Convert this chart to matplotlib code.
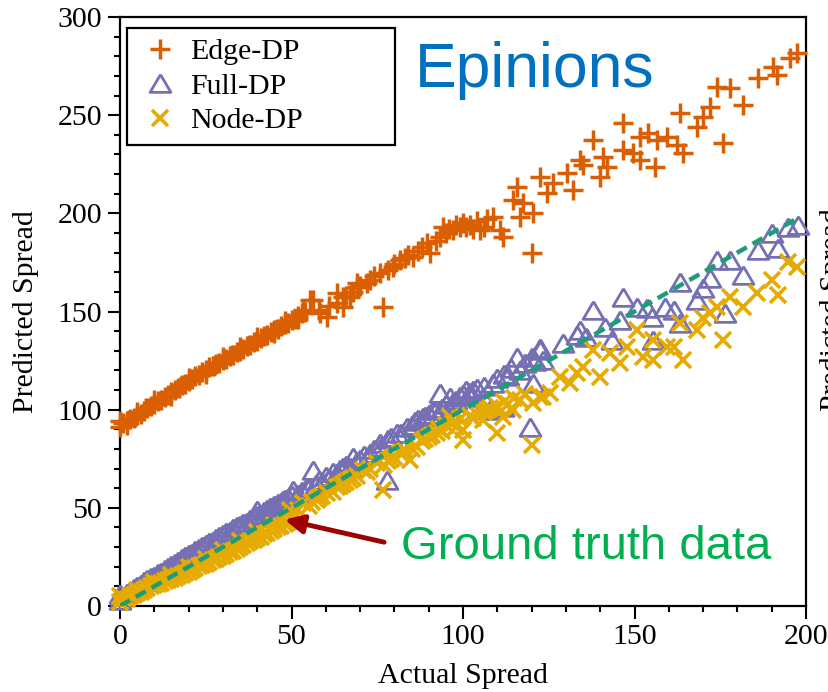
import matplotlib
matplotlib.use("Agg")
import matplotlib.pyplot as plt
from matplotlib.ticker import MultipleLocator

# ---------------- data ----------------
edge_x = [0, 0, 1, 2, 2, 3, 4, 5, 5, 6, 7, 8, 9, 10, 10, 11, 12, 13, 14, 15, 15, 16, 17, 18, 19,
          20, 20, 21, 22, 23, 24, 25, 25, 26, 27, 28, 29, 30, 30, 31, 32, 33, 34, 35, 35, 36, 37,
          38, 39, 40, 40, 41, 42, 43, 44, 45, 45, 46, 47, 48, 48, 49, 50, 51, 52, 52, 53, 54,
          55.4, 56.4, 58.3, 53.4, 60.3, 63.2, 67, 65, 69, 58, 61, 66, 68, 70, 73, 74, 78, 80, 83,
          84, 87, 88, 92, 95, 96, 98, 99, 100, 102, 103, 104, 106, 107,
          65.1, 63.2, 69, 71.9, 75.8, 76.8, 79.7, 81.6, 85.5, 89.4, 90.4, 93.3, 94.3, 97.2, 101,
          105, 108.8, 110.8, 111.7, 114.7, 115.6, 116.6, 117.6, 120, 120.5, 122.4, 124.4, 126.3,
          130.2, 132.2, 134.1, 135.1, 138, 140, 140.9, 141.9, 146.7, 146.7, 149.7, 151.6, 151.6,
          154, 156, 156.5, 159.4, 162.3, 163.3, 164.2, 168.1, 170, 172, 174, 175.9, 177.8, 181.7,
          186.1, 190.5, 191.5, 195.3, 197.3]
edge_y = [91, 94, 93, 94, 92, 95, 96, 97.5, 99, 98, 99.5, 101, 102, 103, 105, 104.5, 105, 106.5,
          107.5, 109, 107, 110, 111, 112.5, 113, 114.5, 116, 115.5, 117, 117.5, 119, 120, 118,
          121.5, 122, 123.5, 124, 125.5, 127, 126, 127.5, 128, 129.5, 130, 132, 131, 132.5, 133,
          134.5, 135, 137, 136.5, 137.5, 138, 139.5, 140.5, 139, 141, 142.5, 143.5, 145, 144,
          145.5, 146, 147.5, 146, 149, 150,
          156, 155.9, 149.1, 150.8, 147.4, 159.4, 157.6, 152.5, 164.4, 151, 153, 158, 160, 163,
          166, 168, 171, 174, 177, 179, 181, 183, 186, 190, 192, 194, 193, 195, 194, 192, 196,
          193, 197,
          157.6, 154.2, 162.7, 164.4, 169.5, 152.5, 172.9, 176.3, 178, 184.8, 179.7, 188.1, 193.2,
          191.5, 193.2, 191.5, 198.3, 191.5, 188.1, 206.8, 213.6, 198.3, 205.1, 179.7, 200, 218.7,
          210.2, 215.3, 220.4, 211.9, 227.2, 224.7, 237.4, 218.7, 228.9, 223.8, 245.9, 232.3,
          230.6, 239.1, 227.2, 240.8, 223.8, 237.4, 239.1, 234.8, 251, 230.6, 244.2, 249.3, 254.4,
          264.5, 235.7, 263.7, 255.2, 268.8, 274.7, 270.5, 279, 281.5]

full_x = [0, 0, 1, 2, 3, 4, 5, 6, 7, 8, 9, 10, 11, 12, 13, 14, 15, 16, 17, 18, 19, 20, 21, 22,
          23, 24, 25, 26, 27, 28, 29, 30, 31, 32, 33, 34, 35, 36, 37, 38, 39, 40, 41, 42, 43, 44,
          45, 46, 47, 48, 49, 50,
          39.9, 43.7, 47.6, 50.5, 54.4, 56.4, 63.2, 65.1, 68, 72.9, 75.8, 77.8, 80.7, 83.6, 88.4,
          91.3, 93.3, 96.2, 101, 105.9, 107.9, 108.8, 111.7, 115.6, 116.6, 119.5, 122.4,
          52, 53, 55, 57, 58, 59, 60, 61, 62, 64, 66, 67, 69, 70, 71, 74, 76, 78, 79, 82, 85, 86,
          87, 89, 90, 92, 94, 95, 97, 98, 99, 100, 102, 103, 104, 106, 110, 112, 113, 114, 118,
          120, 121,
          120.5, 123.4, 122.4, 129.2, 133.1, 134.1, 136, 138, 141.4, 143.4, 145.8, 146.7, 150.6,
          153.5, 155, 155.4, 159, 161.4, 163.3, 163.3, 168.1, 170, 172, 174, 176.4, 177.8, 181.7,
          186.1, 190, 191.9, 194.8, 197.8]
full_y = [3, 6, 5, 6.5, 7.5, 9, 10, 11, 12.5, 13.5, 15, 15.5, 17, 17.5, 19, 20, 21, 22, 23,
          24.5, 25.5, 26.5, 27, 28.5, 29.5, 30.5, 31.5, 32.5, 33, 34.5, 35.5, 36.5, 37.5, 38, 39.5,
          40.5, 41.5, 42.5, 43, 44.5, 45.5, 46.5, 47, 48.5, 49.5, 50, 51.5, 52.5, 53, 54.5, 55,
          56.5,
          48.9, 50.6, 54, 59.1, 60.8, 69.3, 67.6, 71, 76.1, 77.8, 82.9, 64.2, 88, 91.4, 96.4, 99.8,
          108.4, 106.6, 110, 106.6, 99.8, 113.4, 101.5, 127, 120.2, 91.4, 130.4,
          57, 58.5, 60, 62, 64, 63, 66, 65, 68, 70, 72, 71, 74, 75, 77, 80, 81, 85, 86, 88, 92,
          94, 95, 97, 98, 100, 101, 103, 104, 105, 107, 108, 109, 110, 111, 112, 116, 118, 117,
          121, 124, 127, 125,
          113.4, 125.3, 131.3, 133.8, 138, 140.6, 137.2, 150.8, 142.3, 135.5, 145.7, 157.6, 152.5,
          151.7, 147.4, 135.5, 152.5, 150.8, 165.2, 144, 155.9, 161.8, 166.9, 176.3, 149.1, 176.3,
          168.6, 181.4, 189.8, 182.2, 193.2, 194.1]

node_x = [0, 0, 1, 2, 3, 4, 5, 5, 6, 7, 8, 9, 10, 10, 11, 12, 13, 14, 15, 15, 16, 17, 18, 19,
          20, 20, 21, 22, 23, 24, 25, 25, 26, 27, 28, 29, 30, 30, 31, 32, 33, 34, 35, 35, 36, 37,
          38, 39, 40, 40, 41, 42, 43, 44, 45, 45, 46, 47, 48, 49, 50, 50,
          49.6, 53.4, 57.3, 60.3, 63.2, 67, 70.9, 74.8, 76.8, 81.6, 84.5, 86.5, 92.3, 96.2, 100.1,
          100.1, 105.9, 109.8, 111.7, 114.7, 116.6, 120.5, 120, 123.4,
          52, 55, 56, 58, 59, 62, 64, 65, 66, 68, 69, 72, 73, 77, 78, 79, 80, 82, 83, 85, 88, 89,
          90, 91, 93, 94, 95, 97, 98, 99, 102, 103, 104, 106, 107, 108, 110, 112, 113, 115, 118,
          122.4, 125.4, 128.3, 131.2, 133.1, 135.1, 138, 140, 142.9, 145.8, 147.7, 150.6, 152.6,
          155.5, 155.5, 159.4, 161.4, 163.3, 164.2, 168.1, 170, 172, 174, 175.9, 177.8, 181.7,
          185.6, 190, 191.9, 194.8, 197.3]
node_y = [2, 5, 4, 3.5, 5, 5.5, 6.5, 8, 7, 8, 9, 10, 10.5, 12, 11, 11.5, 12.5, 13, 14, 16, 14.5,
          15.5, 16, 17, 17.5, 20, 18.5, 19.5, 20.5, 21, 21.5, 24, 22.5, 23.5, 24, 25, 25.5, 28.5,
          26.5, 27.5, 28, 29, 30, 33, 31, 32, 33, 33.5, 34.5, 37.5, 35, 36.5, 37, 38, 39, 41.5,
          40, 41, 42, 43, 44, 46,
          48.9, 52.3, 54, 57.4, 60.8, 64.2, 69.3, 72.7, 59.1, 77.8, 74.4, 81.2, 88, 96.4, 89.7,
          84.6, 94.8, 88, 96.4, 99.8, 105, 103.3, 82, 106.6,
          49, 51, 53, 55, 56, 58, 61, 62, 63, 65, 66, 68, 70, 72, 74, 75, 76, 78, 79, 80, 84, 85,
          86, 87, 90, 89, 92, 93, 91, 95, 97, 96, 98, 99, 100, 101, 102, 104, 103, 106, 108,
          106.6, 108.4, 116.8, 113.4, 118.5, 121.9, 130.4, 116.8, 128.7, 123.6, 132.1, 140.6, 127,
          135.5, 125.3, 132.1, 132.1, 144, 125.3, 140.6, 146.6, 149.1, 152.5, 135.5, 157.6, 152.5,
          159.3, 166.1, 158.4, 175.4, 172.9]

truth_x = [0, 197]
truth_y = [0, 197]

x_ticks = [0, 50, 100, 150, 200]
y_ticks = [0, 50, 100, 150, 200, 250, 300]

# ---------------- figure ----------------
C_EDGE = "#d95f02"
C_FULL = "#7570b3"
C_NODE = "#e6ab02"
C_TRUTH = "#1b9e77"

serif = ["Liberation Serif", "DejaVu Serif"]
sans = ["Liberation Sans", "DejaVu Sans"]

TRI = [(0, 0.85), (-1, -0.85), (1, -0.85), (0, 0.85)]

fig = plt.figure(figsize=(8.29, 6.92), dpi=100)
ax = fig.add_axes([120 / 829, 1 - 606 / 692, 686 / 829, 589 / 692])

ax.plot(full_x, full_y, linestyle="none", marker=TRI, ms=15, mew=2.0, mfc="none",
        mec=C_FULL, clip_on=False, zorder=3, label="Full-DP")
ax.plot(node_x, node_y, linestyle="none", marker="x", ms=11, mew=2.6,
        color=C_NODE, clip_on=False, zorder=4, label="Node-DP")
ax.plot(edge_x, edge_y, linestyle="none", marker="+", ms=14, mew=2.5,
        color=C_EDGE, clip_on=False, zorder=5, label="Edge-DP")
ax.plot(truth_x, truth_y, linestyle=(0, (2.6, 1.5)), color=C_TRUTH, lw=3.2, zorder=6)

ax.set_xlim(0, 200)
ax.set_ylim(0, 300)
ax.set_xticks(x_ticks)
ax.set_yticks(y_ticks)
ax.xaxis.set_minor_locator(MultipleLocator(10))
ax.yaxis.set_minor_locator(MultipleLocator(10))
ax.tick_params(which="major", direction="out", length=9, width=1.5, labelsize=21.5, pad=4,
               top=False, right=False)
ax.tick_params(which="minor", direction="out", length=4.5, width=1.5, top=False, right=False)
for lab in ax.get_xticklabels() + ax.get_yticklabels():
    lab.set_fontfamily(serif)
for sp in ax.spines.values():
    sp.set_linewidth(1.6)

ax.set_xlabel("Actual Spread", fontsize=21.5, family=serif, labelpad=9)
ax.set_ylabel("Predicted Spread", fontsize=21.5, family=serif, labelpad=13)

handles, labels = ax.get_legend_handles_labels()
order = [2, 0, 1]
leg_h = 117 / 589
leg = ax.legend([handles[i] for i in order], [labels[i] for i in order],
                loc="upper left",
                bbox_to_anchor=(7 / 686, 1 - 11 / 589 - leg_h, 268 / 686, leg_h),
                mode="expand", borderaxespad=0,
                prop={"family": serif, "size": 21.5}, frameon=True, fancybox=False,
                edgecolor="black", framealpha=1, handlelength=1.5, handletextpad=0.25,
                labelspacing=0.25, borderpad=0.35)
leg.get_frame().set_linewidth(1.6)

ax.text(86, 264.5, "Epinions", fontsize=45, color="#0070c0", family=sans,
        ha="left", va="baseline", zorder=7)
ax.text(82, 24, "Ground truth data", fontsize=34, color="#00b050", family=sans,
        ha="left", va="baseline", zorder=7)
ax.annotate("", xy=(48, 44), xytext=(77, 32.5),
            arrowprops=dict(arrowstyle="-|>", color="#a00000", lw=3.5, mutation_scale=28,
                            shrinkA=0, shrinkB=0), zorder=7)

# partial label of the neighbouring panel, cut by the right edge (as in the source image)
fig.text(833 / 829, 0.552, "Predicted Spread", rotation=90, fontsize=21.5, family=serif,
         ha="center", va="center")

fig.savefig("out.png", dpi=100)
